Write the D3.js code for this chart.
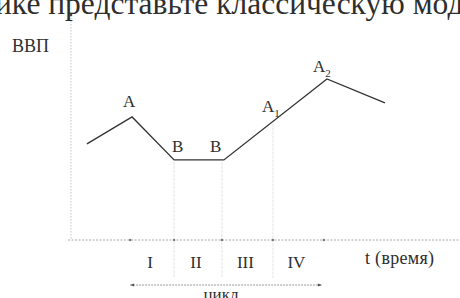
<!DOCTYPE html>
<html>
<head>
<meta charset="utf-8">
<script src="https://cdn.jsdelivr.net/npm/d3@7"></script>
<style>
  body { margin: 0; background: #fff; }
  text { font-family: "Liberation Serif", "DejaVu Serif", serif; fill: #2e2e2e; }
</style>
</head>
<body>
<script>
// GDP curve: time (arbitrary units) and level
const times  = [4.1, 15.7, 26.5, 39.3, 65.8, 80.7];
const levels = [42.7, 54.7, 35.6, 35.6, 71.6, 60.9];

// labelled turning points: index into the curve, letter, subscript
const pointIdx  = [1, 2, 3, 4];
const pointName = ["A", "B", "B", "A"];
const pointSub  = ["", "", "", "2"];

// phase boundaries on the time axis
const phaseTicks = [15.2, 26.5, 38.8, 51.9, 65.0];
const phaseNames = ["I", "II", "III", "IV"];

const width = 460, height = 298;
const svg = d3.select("body").append("svg")
    .attr("width", width)
    .attr("height", height);

let x = d3.scaleLinear().domain([0, 100]).range([71, 460]);
let y = d3.scaleLinear().domain([0, 100]).range([240, 15]);

// cut-off line of text above the figure
svg.append("text")
    .attr("x", -5).attr("y", 14)
    .style("font-size", "31.5px")
    .text("ике представьте классическую мод");

// faint vertical guides from the curve down below the axis
const curveAt = d3.scaleLinear().domain(times).range(levels);
svg.selectAll(".guide")
    .data(phaseTicks.slice(1, 4))
  .enter().append("line")
    .attr("class", "guide")
    .attr("x1", d => x(d)).attr("x2", d => x(d))
    .attr("y1", d => y(curveAt(d)) + 2)
    .attr("y2", 278)
    .attr("stroke", "#dcdcdc")
    .attr("stroke-width", 0.8)
    .attr("stroke-dasharray", "3,1");

// axes (dotted, light)
svg.append("line")
    .attr("x1", x(0)).attr("x2", x(0))
    .attr("y1", y(100)).attr("y2", y(0))
    .attr("stroke", "#c4c4c4").attr("stroke-dasharray", "1.5,1.5");
svg.append("line")
    .attr("x1", x(0) - 3).attr("x2", x(100))
    .attr("y1", y(0)).attr("y2", y(0))
    .attr("stroke", "#a8a8a8").attr("stroke-dasharray", "2,1.5");
svg.append("circle")
    .attr("cx", x(0)).attr("cy", y(100)).attr("r", 1.3).attr("fill", "#444");

// tick dots on the time axis
svg.selectAll(".tick-dot")
    .data(phaseTicks)
  .enter().append("circle")
    .attr("cx", d => x(d)).attr("cy", y(0))
    .attr("r", 1.2).attr("fill", "#777");

// the curve
let line = d3.line()
    .x((d, i) => x(times[i]))
    .y(d => y(d));
svg.append("path")
    .datum(levels)
    .attr("d", line)
    .attr("fill", "none")
    .attr("stroke", "#333")
    .attr("stroke-width", 1.3);

// point labels
const labelOffsets = [[-9, -10], [-2, -8], [-14, -8], [-14, -7]];
let labels = svg.selectAll(".plabel")
    .data(pointIdx)
  .enter().append("text")
    .attr("class", "plabel")
    .attr("x", (d, i) => x(times[d]) + labelOffsets[i][0])
    .attr("y", (d, i) => y(levels[d]) + labelOffsets[i][1])
    .style("font-size", "17px")
    .text((d, i) => pointName[i]);
labels.append("tspan")
    .attr("dy", 5)
    .style("font-size", "11px")
    .text((d, i) => pointSub[i]);

// A1 label on the rising leg
let a1 = svg.append("text")
    .attr("x", 262).attr("y", 112)
    .style("font-size", "17px")
    .text("A");
a1.append("tspan").attr("dy", 5).style("font-size", "11px").text("1");

// axis titles
svg.append("text")
    .attr("x", 12).attr("y", 52)
    .style("font-size", "18px")
    .text("ВВП");
svg.append("text")
    .attr("x", 365).attr("y", 264)
    .style("font-size", "18px")
    .style("letter-spacing", "0.3px")
    .text("t (время)");

// phase numerals
svg.selectAll(".phase")
    .data(phaseNames)
  .enter().append("text")
    .attr("class", "phase")
    .attr("x", (d, i) => x((phaseTicks[i] + phaseTicks[i + 1]) / 2) - 2)
    .attr("y", 268)
    .attr("text-anchor", "middle")
    .style("font-size", "17px")
    .text(d => d);

// cycle span arrow
const arrowY = 285;
svg.append("line")
    .attr("x1", x(phaseTicks[0])).attr("x2", x(phaseTicks[phaseTicks.length - 1]) - 2)
    .attr("y1", arrowY).attr("y2", arrowY)
    .attr("stroke", "#999").attr("stroke-dasharray", "2,1");
[phaseTicks[0], phaseTicks[phaseTicks.length - 1] - 0.5].forEach((t, i) => {
  const px = x(t), dir = i === 0 ? 1 : -1;
  svg.append("path")
    .attr("d", "M" + px + "," + arrowY + "l" + (4 * dir) + ",-1.5v3z")
    .attr("fill", "#555");
});
svg.append("text")
    .attr("x", 221)
    .attr("y", 300)
    .attr("text-anchor", "middle")
    .style("font-size", "17px")
    .text("цикл");
</script>
</body>
</html>
